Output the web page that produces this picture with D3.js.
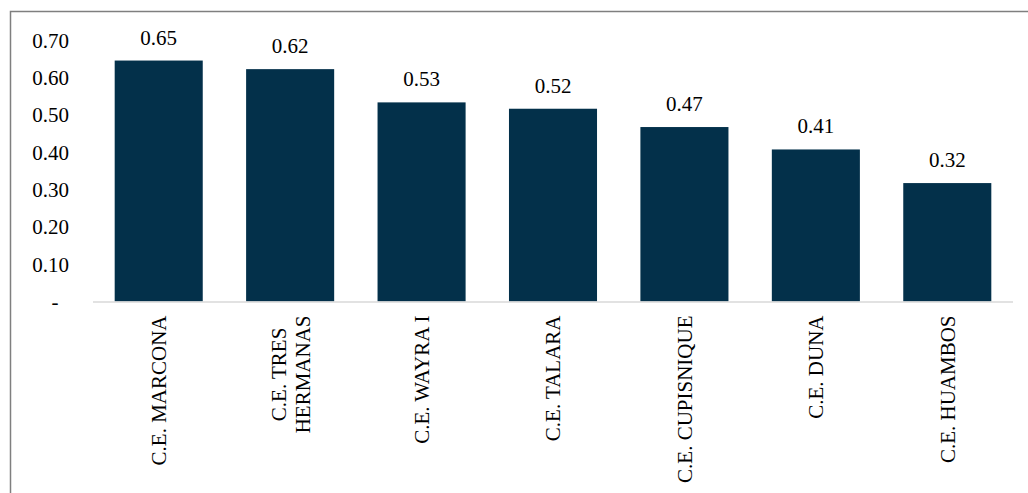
<!DOCTYPE html>
<html>
<head>
<meta charset="utf-8">
<script src="https://cdn.jsdelivr.net/npm/d3@7"></script>
<style>
  html, body { margin: 0; padding: 0; background: #ffffff; }
  svg { display: block; }
</style>
</head>
<body>
<svg id="chart" width="1028" height="493" font-family="'Liberation Serif', 'Times New Roman', Times, serif"></svg>
<script>
const categories = ["C.E. MARCONA", "C.E. TRES\nHERMANAS", "C.E. WAYRA I", "C.E. TALARA", "C.E. CUPISNIQUE", "C.E. DUNA", "C.E. HUAMBOS"];
const values = [0.645, 0.622, 0.533, 0.516, 0.467, 0.407, 0.317];
const yTicks = [0, 0.10, 0.20, 0.30, 0.40, 0.50, 0.60, 0.70];

const FONT = "'Liberation Serif', 'Times New Roman', Times, serif";
const FS = 21;
const svg = d3.select("#chart");
const W = 1028, H = 493;

// outer frame (right/bottom edges lie outside the picture)
svg.append("rect")
  .attr("x", 10.5).attr("y", 11.5)
  .attr("width", W + 20).attr("height", H + 20)
  .attr("fill", "none").attr("stroke", "#7f7f7f").attr("stroke-width", 1.5);

const plot = { left: 93, right: 1013, top: 40, bottom: 301.5 };

const x = d3.scaleBand()
  .domain(categories)
  .range([plot.left, plot.right])
  .paddingInner(0.33)
  .paddingOuter(0.165);

const y = d3.scaleLinear()
  .domain([0, 0.70])
  .range([plot.bottom, plot.top]);

const fmt = d3.format(".2f");

// y tick labels
svg.append("g").selectAll("text")
  .data(yTicks)
  .join("text")
  .attr("font-family", FONT)
  .attr("x", d => d === 0 ? 55 : 69)
  .attr("y", d => y(d))
  .attr("dy", "0.36em")
  .attr("text-anchor", d => d === 0 ? "middle" : "end")
  .attr("font-size", FS)
  .attr("fill", "#000")
  .text(d => d === 0 ? "-" : fmt(d));

// bars
svg.append("g").selectAll("rect")
  .data(values)
  .join("rect")
  .attr("x", (d, i) => x(categories[i]))
  .attr("y", d => y(d))
  .attr("width", x.bandwidth())
  .attr("height", d => y(0) - y(d))
  .attr("fill", "#03304a");

// baseline
svg.append("line")
  .attr("x1", plot.left).attr("x2", plot.right)
  .attr("y1", y(0) + 0.5).attr("y2", y(0) + 0.5)
  .attr("stroke", "#d9d9d9").attr("stroke-width", 1.5);

// value labels
svg.append("g").selectAll("text")
  .data(values)
  .join("text")
  .attr("font-family", FONT)
  .attr("x", (d, i) => x(categories[i]) + x.bandwidth() / 2)
  .attr("y", d => y(d) - 16)
  .attr("text-anchor", "middle")
  .attr("font-size", FS)
  .attr("fill", "#000")
  .text(d => fmt(d));

// category labels (rotated)
const labelTop = y(0) + 14;
const lineGap = 24;
const cat = svg.append("g").selectAll("g")
  .data(categories)
  .join("g");

cat.each(function(c) {
  const g = d3.select(this);
  const lines = c.split("\n");
  const cx = x(c) + x.bandwidth() / 2;
  const texts = lines.map((ln, k) => g.append("text")
    .attr("font-family", FONT)
    .attr("font-size", FS)
    .attr("fill", "#000")
    .attr("text-anchor", "middle")
    .text(ln));
  const maxLen = d3.max(texts, t => t.node().getComputedTextLength());
  const cy = labelTop + maxLen / 2;
  texts.forEach((t, k) => {
    const off = (k - (lines.length - 1) / 2) * lineGap;
    t.attr("transform", `translate(${cx + off},${cy}) rotate(-90)`)
     .attr("dy", "0.35em");
  });
});
</script>
</body>
</html>
